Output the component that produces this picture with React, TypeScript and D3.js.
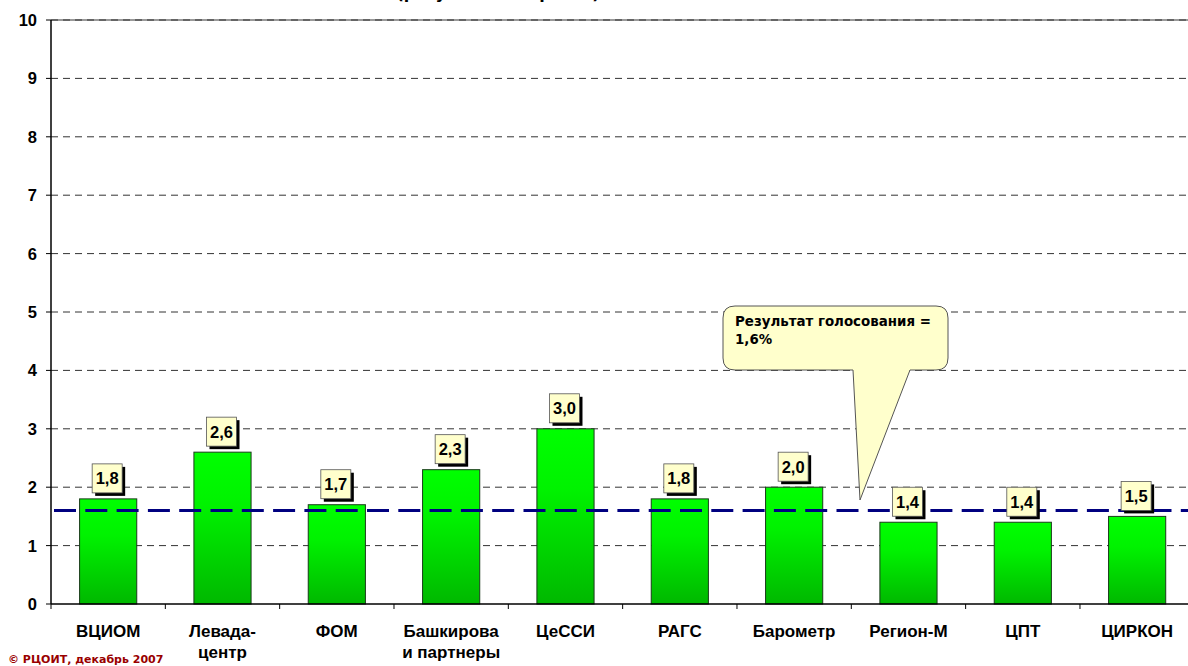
import React from 'react';
import * as d3 from 'd3';

const categories: string[] = ['ВЦИОМ', 'Левада-центр', 'ФОМ', 'Башкирова и партнеры', 'ЦеССИ', 'РАГС', 'Барометр', 'Регион-М', 'ЦПТ', 'ЦИРКОН'];
const categoryLines: string[][] = [['ВЦИОМ'], ['Левада-', 'центр'], ['ФОМ'], ['Башкирова', 'и партнеры'], ['ЦеССИ'], ['РАГС'], ['Барометр'], ['Регион-М'], ['ЦПТ'], ['ЦИРКОН']];
const values: number[] = [1.8, 2.6, 1.7, 2.3, 3.0, 1.8, 2.0, 1.4, 1.4, 1.5];
const voteResult = 1.6;
const yTicks: number[] = [0, 1, 2, 3, 4, 5, 6, 7, 8, 9, 10];
const calloutLines: string[] = ['Результат голосования =', '1,6%'];
const titleText = '(результаты опросов)';
const copyright = '© РЦОИТ, декабрь 2007';

const W = 1188;
const H = 666;
const left = 51;
const right = 1194.3;
const top = 20;
const bottom = 604;

const fmt = (v: number) => d3.format('.1f')(v).replace('.', ',');

export default function App() {
  const x = d3.scaleBand<string>().domain(categories).range([left, right]).paddingInner(0.5).paddingOuter(0.25);
  const y = d3.scaleLinear().domain([0, 10]).range([bottom, top]);
  const step = x.step();
  const boundaries = d3.range(categories.length + 1).map((i) => left + i * step);
  const axisFont = 'Liberation Sans';
  const tahoma = 'DejaVu Sans';
  const yv = y(voteResult);

  const cL = 723, cR = 948, cT = 306, cB = 370, r = 12;
  const tailA = 853, tailB = 910;
  const tipX = 860, tipY = 500;
  const calloutPath = `M ${cL + r},${cT} H ${cR - r} Q ${cR},${cT} ${cR},${cT + r} V ${cB - r} Q ${cR},${cB} ${cR - r},${cB} H ${tailB} L ${tipX},${tipY} L ${tailA},${cB} H ${cL + r} Q ${cL},${cB} ${cL},${cB - r} V ${cT + r} Q ${cL},${cT} ${cL + r},${cT} Z`;

  return (
    <svg width={W} height={H} style={{ position: 'absolute', left: 0, top: 0, display: 'block', background: '#fff' }}>
      <defs>
        <linearGradient id="barGrad" x1="0" y1="0" x2="0" y2="1">
          <stop offset="0%" stopColor="#00ff00" />
          <stop offset="35%" stopColor="#00f200" />
          <stop offset="100%" stopColor="#00b800" />
        </linearGradient>
      </defs>

      <text x={498} y={-1} textAnchor="middle" fontFamily={tahoma} fontWeight="bold" fontSize={16} fill="#000">{titleText}</text>

      <line x1={left} x2={W} y1={top} y2={top} stroke="#9a9a9a" strokeWidth={2} />

      {yTicks.filter((t) => t > 0).map((t) => (
        <line key={'g' + t} x1={left} x2={W} y1={y(t)} y2={y(t)} stroke="#333" strokeWidth={1} strokeDasharray="7,5" />
      ))}

      {yTicks.map((t) => (
        <g key={'y' + t}>
          <line x1={left - 5} x2={left} y1={y(t)} y2={y(t)} stroke="#000" strokeWidth={1} />
          <text x={37} y={y(t)} dy="0.36em" textAnchor="end" fontFamily={axisFont} fontWeight="bold" fontSize={16.5} fill="#000">{t}</text>
        </g>
      ))}

      {categories.map((c, i) => (
        <rect key={'b' + c} x={x(c)!} y={y(values[i])} width={x.bandwidth()} height={bottom - y(values[i])} fill="url(#barGrad)" stroke="#1a3a1a" strokeWidth={1} />
      ))}

      <line x1={54} x2={W} y1={yv} y2={yv} stroke="#000080" strokeWidth={3} strokeDasharray="22,9.3" />

      {categories.map((c, i) => {
        const cx = x(c)! + x.bandwidth() / 2 - 1;
        const bt = y(values[i]);
        const bw = 30, bh = 29;
        const bx = cx - bw / 2;
        const by = bt - 35;
        return (
          <g key={'l' + c}>
            <rect x={bx + 3} y={by + 3} width={bw} height={bh} fill="#000" />
            <rect x={bx} y={by} width={bw} height={bh} fill="#ffffcc" stroke="#555" strokeWidth={0.8} />
            <text x={cx} y={by + bh / 2} dy="0.36em" textAnchor="middle" fontFamily={axisFont} fontWeight="bold" fontSize={16.5} fill="#000">{fmt(values[i])}</text>
          </g>
        );
      })}

      <line x1={left} x2={left} y1={top} y2={bottom} stroke="#000" strokeWidth={1.5} />
      <line x1={left} x2={W} y1={bottom} y2={bottom} stroke="#000" strokeWidth={1.5} />
      {boundaries.map((b, i) => (
        <line key={'t' + i} x1={b} x2={b} y1={bottom} y2={bottom + 5} stroke="#000" strokeWidth={1} />
      ))}

      {categories.map((c, i) => (
        <text key={'x' + c} x={x(c)! + x.bandwidth() / 2} y={637} textAnchor="middle" fontFamily={axisFont} fontWeight="bold" fontSize={17} fill="#000">
          {categoryLines[i].map((ln, j) => (
            <tspan key={j} x={x(c)! + x.bandwidth() / 2} dy={j === 0 ? 0 : 21}>{ln}</tspan>
          ))}
        </text>
      ))}

      <path d={calloutPath} fill="#ffffcc" stroke="#555" strokeWidth={1} />
      {calloutLines.map((ln, i) => (
        <text key={'c' + i} x={735} y={326 + i * 17.5} fontFamily={tahoma} fontWeight="bold" fontSize={13.4} fill="#000">{ln}</text>
      ))}

      <text x={8} y={663} fontFamily={tahoma} fontWeight="bold" fontSize={11} fill="#990000">{copyright}</text>
    </svg>
  );
}
